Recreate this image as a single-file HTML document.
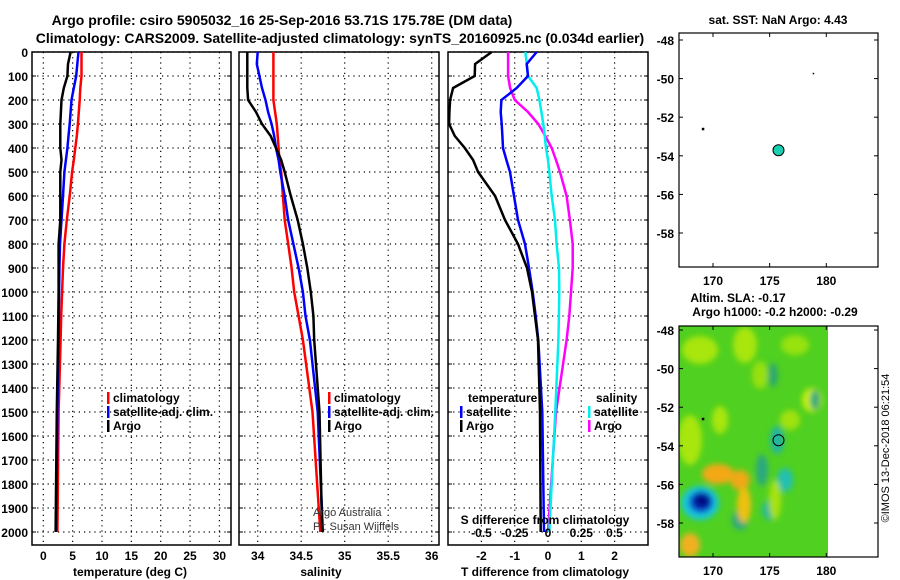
<!DOCTYPE html>
<html><head><meta charset="utf-8"><style>
html,body{margin:0;padding:0;background:#fff;}
svg{display:block;font-family:"Liberation Sans",Arial,sans-serif;font-weight:bold;}
</style></head><body>
<svg id="c" width="900" height="580" viewBox="0 0 900 580">
<defs>
<filter id="blur" x="-20%" y="-20%" width="140%" height="140%"><feGaussianBlur stdDeviation="3"/></filter>
<clipPath id="mapclip"><rect x="679" y="326" width="149" height="231"/></clipPath>
</defs>
<text x="282" y="25" font-size="14" text-anchor="middle">Argo profile: csiro 5905032_16 25-Sep-2016 53.71S 175.78E (DM data)</text>
<text x="340" y="43" font-size="14" text-anchor="middle">Climatology: CARS2009. Satellite-adjusted climatology: synTS_20160925.nc (0.034d earlier)</text>
<g id="g"></g>
</svg>
<script>
// depth levels (m)
const depths = [0,50,100,150,200,250,300,350,400,450,500,600,700,800,900,1000,1100,1200,1500,2000];
// temperature (deg C)
const tempClim = [6.5,6.5,6.5,6.3,6.2,6.05,5.9,5.7,5.45,5.2,4.9,4.5,4.0,3.6,3.35,3.2,3.05,2.95,2.6,2.4];
const tempSat  = [6.0,5.8,5.6,5.2,4.8,4.65,4.5,4.3,4.1,3.85,3.6,3.35,3.1,2.85,2.75,2.7,2.65,2.6,2.4,2.2];
const tempArgo = [4.65,4.2,4.1,3.5,3.1,3.0,2.9,2.9,2.9,3.1,2.9,2.9,2.9,2.6,2.6,2.6,2.55,2.5,2.3,2.1];
// salinity
const salClim = [34.18,34.18,34.18,34.18,34.18,34.2,34.22,34.23,34.24,34.25,34.27,34.29,34.31,34.35,34.39,34.42,34.47,34.52,34.63,34.72];
const salSat  = [34.00,33.99,34.02,34.05,34.09,34.12,34.16,34.19,34.21,34.24,34.26,34.31,34.35,34.41,34.47,34.52,34.55,34.60,34.69,34.75];
const salArgo = [33.88,33.88,33.88,33.88,33.89,33.98,34.05,34.15,34.21,34.27,34.31,34.38,34.46,34.52,34.57,34.61,34.64,34.65,34.71,34.74];
// differences from climatology
const dTsat  = [-0.34,-0.64,-0.6,-0.94,-1.4,-1.42,-1.39,-1.37,-1.35,-1.25,-1.14,-1.02,-0.9,-0.69,-0.57,-0.46,-0.37,-0.29,-0.17,-0.12];
const dTargo = [-1.69,-2.19,-2.2,-2.85,-2.94,-2.96,-2.97,-2.8,-2.5,-2.25,-2.1,-1.59,-1.29,-0.9,-0.63,-0.48,-0.39,-0.3,-0.24,-0.22];
const dSsat  = [-0.17,-0.16,-0.15,-0.085,-0.065,-0.05,-0.035,-0.025,-0.015,0,0.01,0.028,0.053,0.065,0.083,0.085,0.082,0.078,0.055,0.01];
const dSargo = [-0.30,-0.30,-0.30,-0.285,-0.25,-0.15,-0.073,-0.02,0.028,0.06,0.09,0.14,0.165,0.186,0.186,0.173,0.16,0.14,0.06,0.0];
// tick labels
const depthTicks = [0,100,200,300,400,500,600,700,800,900,1000,1100,1200,1300,1400,1500,1600,1700,1800,1900,2000];
const tempTicks = [0,5,10,15,20,25,30];
const salTicks = [34,34.5,35,35.5,36];
const dTTicks = [-2,-1,0,1,2];
const dSTicks = [-0.5,-0.25,0,0.25,0.5];
const latTicks = [-48,-50,-52,-54,-56,-58];
const lonTicks = [170,175,180];
const floatLon = 175.78, floatLat = -53.71;

const NS="http://www.w3.org/2000/svg";
const g=document.getElementById('g');
function el(tag,attrs,parent){const e=document.createElementNS(NS,tag);for(const k in attrs)e.setAttribute(k,attrs[k]);(parent||g).appendChild(e);return e;}
function txt(x,y,s,size,anchor,parent){const t=el('text',{x:x,y:y,'font-size':size,'text-anchor':anchor||'middle'},parent);t.textContent=s;return t;}

const TOP=52, BOT=545;
const yD = d => TOP + d*0.24;
const xT = t => 43.3 + t*5.87;
const xS = s => 257.7 + (s-34)*87;
const xDT = t => 548 + t*33.3;
const xDS = s => 548 + s*133;

function panel(name){
  const grp=el('g',{});
  
  
  return grp;
}
function grid(grp,x0,x1,xs){
  xs.forEach(x=>{const l=el('line',{x1:x,x2:x,y1:TOP,y2:BOT,stroke:'#000','stroke-width':1.2,'stroke-dasharray':'1.2 4'},grp);});
  depthTicks.forEach(d=>{const l=el('line',{x1:x0,x2:x1,y1:yD(d),y2:yD(d),stroke:'#000','stroke-width':1.2,'stroke-dasharray':'1.2 4'},grp);
    el('line',{x1:x0,x2:x0+4,y1:yD(d),y2:yD(d),stroke:'#000'},grp);el('line',{x1:x1-4,x2:x1,y1:yD(d),y2:yD(d),stroke:'#000'},grp);});
  const f=el('rect',{x:x0,y:TOP,width:x1-x0,height:BOT-TOP,fill:'none',stroke:'#000','stroke-width':1.5},grp);
  
}
function line(grp,vals,xf,color,name,w){
  const pts=vals.map((v,i)=>xf(v).toFixed(1)+','+yD(depths[i]).toFixed(1)).join(' ');
  const p=el('polyline',{points:pts,fill:'none',stroke:color,'stroke-width':w||2.5},grp);
  
}
function legItem(grp,x,y,color,label){
  el('rect',{x:x,y:y-10,width:2.5,height:12,fill:color},grp);
  const t=txt(x+6,y,label,12,'start',grp);
  
}

// y tick labels
const ylab=panel('depth-axis-labels');
depthTicks.forEach(d=>{const t=txt(28,yD(d)+5,String(d),12,'end',ylab);});

// Panel 1: temperature
const p1=panel('temperature-panel');
grid(p1,32,231,tempTicks.map(xT));
line(p1,tempClim,xT,'#f00','temp-climatology-line');
line(p1,tempSat,xT,'#00f','temp-satellite-line');
line(p1,tempArgo,xT,'#000','temp-argo-line');
tempTicks.forEach(t=>{const e=txt(xT(t),560,String(t),12,'middle',p1);});
let at=txt(130,576,'temperature (deg C)',12,'middle',p1);
legItem(p1,107,402,'#f00','climatology');legItem(p1,107,416,'#00f','satellite-adj. clim.');legItem(p1,107,430,'#000','Argo');

// Panel 2: salinity
const p2=panel('salinity-panel');
grid(p2,239,439,salTicks.map(xS));
line(p2,salClim,xS,'#f00','sal-climatology-line');
line(p2,salSat,xS,'#00f','sal-satellite-line');
line(p2,salArgo,xS,'#000','sal-argo-line');
salTicks.forEach(t=>{const e=txt(xS(t),560,String(t),12,'middle',p2);});
at=txt(321,576,'salinity',12,'middle',p2);
legItem(p2,328,402,'#f00','climatology');legItem(p2,328,416,'#00f','satellite-adj. clim.');legItem(p2,328,430,'#000','Argo');
let c1=txt(313,516,'Argo Australia',11,'start',p2);c1.setAttribute('font-weight','normal');c1.setAttribute('fill','#333');
let c2=txt(313,530,'PI: Susan Wijffels',11,'start',p2);c2.setAttribute('font-weight','normal');c2.setAttribute('fill','#333');

// Panel 3: differences
const p3=panel('difference-panel');
grid(p3,448,648,dTTicks.map(xDT));
line(p3,dSargo,xDS,'#f0f','sal-diff-argo-line');
line(p3,dSsat,xDS,'#0ee','sal-diff-satellite-line');
line(p3,dTsat,xDT,'#00f','temp-diff-satellite-line');
line(p3,dTargo,xDT,'#000','temp-diff-argo-line');
dTTicks.forEach(t=>{const e=txt(xDT(t),560,String(t),12,'middle',p3);});
dSTicks.forEach(t=>{const e=txt(xDS(t),537,String(t),12,'middle',p3);});
at=txt(545,524,'S difference from climatology',12,'middle',p3);
at=txt(545,576,'T difference from climatology',12,'middle',p3);
at=txt(468,402,'temperature',12,'start',p3);
legItem(p3,460,416,'#00f','satellite');legItem(p3,460,430,'#000','Argo');
at=txt(596,402,'salinity',12,'start',p3);
legItem(p3,588,416,'#0ee','satellite');legItem(p3,588,430,'#f0f','Argo');

// Maps
const mx = lon => 713 + (lon-170)*11.33;
function mapAxes(grp,top,lat0y,bottom){
  const my = lat => lat0y + (-48-lat)*19.3;
  el('rect',{x:679,y:top,width:199,height:bottom-top,fill:'none',stroke:'#000','stroke-width':1.2},grp);
  latTicks.forEach(l=>{const y=my(l);el('line',{x1:679,x2:683,y1:y,y2:y,stroke:'#000'},grp);el('line',{x1:874,x2:878,y1:y,y2:y,stroke:'#000'},grp);
    const t=txt(674,y+5,String(l),12,'end',grp);});
  lonTicks.forEach(l=>{const x=mx(l);el('line',{x1:x,x2:x,y1:bottom-4,y2:bottom,stroke:'#000'},grp);el('line',{x1:x,x2:x,y1:top,y2:top+4,stroke:'#000'},grp);
    const t=txt(x,bottom+18,String(l),12,'middle',grp);});
  return my;
}
const m1=panel('sst-map');
let my1=mapAxes(m1,33,40,267);
let tt=txt(778,24,'sat. SST: NaN Argo: 4.43',12,'middle',m1);
el('rect',{x:mx(169.1)-1,y:my1(-52.6)-1,width:2.5,height:2.5,fill:'#000'},m1);
el('rect',{x:mx(178.8),y:my1(-49.7),width:1.5,height:1.5,fill:'#000'},m1);
let fm=el('circle',{cx:mx(floatLon),cy:my1(floatLat),r:5.5,fill:'#1ad0b0',stroke:'#000','stroke-width':1},m1);


const m2=panel('sla-map');
const heat=el('g',{'clip-path':'url(#mapclip)'},m2);

el('rect',{x:679,y:326,width:149,height:231,fill:'#50d020'},heat);
const hb=el('g',{filter:'url(#blur)'},heat);
[[700,350,18,14,'#a8e60a'],[745,345,12,18,'#a8e60a'],[795,345,14,10,'#98e20a'],[690,440,12,25,'#a8e60a'],[720,420,8,14,'#a8e60a'],
 [812,400,10,12,'#c8ee10'],[760,375,8,14,'#98e010'],[790,420,10,10,'#a0e210'],
 [773,375,5,12,'#2aa870'],[777,440,7,14,'#20b5a0'],[815,400,5,10,'#2aa880'],
 [762,470,6,16,'#2aa880'],[785,480,8,12,'#20c0b0'],[770,510,8,10,'#28b89a'],[740,520,8,10,'#2aa880'],
 [775,500,6,20,'#a8e20a'],
 [718,474,16,10,'#f4a818'],[740,480,10,10,'#f0a818'],[744,505,7,18,'#f0c010'],
 [690,545,10,12,'#f0b020']].forEach(b=>el('ellipse',{cx:b[0],cy:b[1],rx:b[2],ry:b[3],fill:b[4]},hb));
el('ellipse',{cx:700,cy:503,rx:19,ry:17,fill:'#18c8d8'},hb);
el('ellipse',{cx:701,cy:502,rx:12,ry:11,fill:'#1040d0'},hb);
el('ellipse',{cx:702,cy:501,rx:8,ry:7,fill:'#000880'},hb);
let my2=mapAxes(m2,326,330,557);
tt=txt(738,302,'Altim. SLA: -0.17',12,'middle',m2);
tt=txt(775,316,'Argo h1000: -0.2 h2000: -0.29',12,'middle',m2);
el('rect',{x:mx(169.1)-1,y:my2(-52.6)-1,width:2.5,height:2.5,fill:'#000'},m2);
let fm2=el('circle',{cx:mx(floatLon),cy:my2(floatLat),r:5.5,fill:'none',stroke:'#000','stroke-width':1},m2);

let cp=txt(0,0,'©IMOS 13-Dec-2018 06:21:54',11,'middle',m2);cp.setAttribute('font-weight','normal');cp.setAttribute('transform','translate(889,448) rotate(-90)');

</script>
</body></html>
